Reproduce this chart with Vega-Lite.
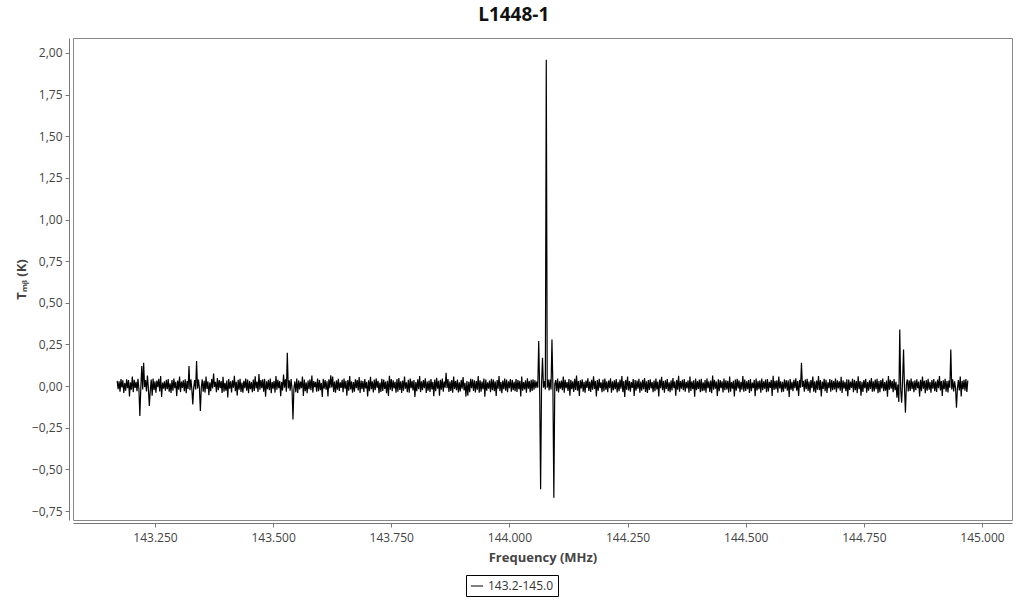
{
"$schema": "https://vega.github.io/schema/vega-lite/v6.json",
"width": 939, "height": 482,
"autosize": "none",
"padding": {"left": 73, "top": 38, "right": 12, "bottom": 80},
"title": {"text": "L1448-1", "fontSize": 19, "font": "Open Sans", "fontWeight": "bold", "color": "#111", "anchor": "middle", "frame": "bounds", "offset": 13},
"config": {
  "view": {"stroke": "#888", "strokeWidth": 1},
  "font": "Open Sans",
  "axis": {"grid": false, "domainColor": "#777", "tickColor": "#777", "tickSize": 4, "labelColor": "#444", "labelFontSize": 12, "labelFont": "Open Sans", "titleFont": "Open Sans", "titleFontSize": 13, "titleFontWeight": "bold", "titleColor": "#444"}
},
"data": {"values": [
{"f":143.170,"t":0.031},{"f":143.172,"t":-0.019},{"f":143.174,"t":0.028},{"f":143.176,"t":-0.034},{"f":143.178,"t":0.042},{"f":143.180,"t":-0.008},{"f":143.182,"t":0.035},{"f":143.184,"t":-0.041},{"f":143.186,"t":0.018},{"f":143.188,"t":-0.027},{"f":143.190,"t":0.041},{"f":143.192,"t":-0.013},{"f":143.194,"t":0.036},{"f":143.196,"t":-0.062},{"f":143.198,"t":0.022},{"f":143.200,"t":-0.022},{"f":143.202,"t":0.058},{"f":143.204,"t":-0.036},{"f":143.206,"t":0.038},{"f":143.208,"t":-0.011},
{"f":143.210,"t":0.025},{"f":143.212,"t":-0.03},{"f":143.214,"t":0.044},{"f":143.216,"t":-0.017},{"f":143.218,"t":-0.18},{"f":143.220,"t":-0.01},{"f":143.222,"t":0.12},{"f":143.224,"t":-0.02},{"f":143.226,"t":0.14},{"f":143.228,"t":-0.006},{"f":143.230,"t":0.036},{"f":143.232,"t":-0.032},{"f":143.234,"t":0.064},{"f":143.236,"t":-0.015},{"f":143.238,"t":-0.12},{"f":143.240,"t":-0.028},{"f":143.242,"t":0.039},{"f":143.244,"t":-0.058},{"f":143.246,"t":0.046},{"f":143.248,"t":-0.025},
{"f":143.250,"t":0.028},{"f":143.252,"t":-0.039},{"f":143.254,"t":0.033},{"f":143.256,"t":-0.006},{"f":143.258,"t":0.044},{"f":143.260,"t":-0.032},{"f":143.262,"t":0.061},{"f":143.264,"t":-0.066},{"f":143.266,"t":0.021},{"f":143.268,"t":-0.015},{"f":143.270,"t":0.029},{"f":143.272,"t":-0.028},{"f":143.274,"t":0.038},{"f":143.276,"t":-0.019},{"f":143.278,"t":0.042},{"f":143.280,"t":-0.034},{"f":143.282,"t":0.016},{"f":143.284,"t":-0.041},{"f":143.286,"t":0.037},{"f":143.288,"t":-0.027},
{"f":143.290,"t":0.045},{"f":143.292,"t":-0.013},{"f":143.294,"t":0.026},{"f":143.296,"t":-0.06},{"f":143.298,"t":0.033},{"f":143.300,"t":-0.022},{"f":143.302,"t":0.057},{"f":143.304,"t":-0.036},{"f":143.306,"t":0.027},{"f":143.308,"t":-0.011},{"f":143.310,"t":0.035},{"f":143.312,"t":-0.03},{"f":143.314,"t":0.041},{"f":143.316,"t":-0.043},{"f":143.318,"t":0.03},{"f":143.320,"t":-0.017},{"f":143.322,"t":0.12},{"f":143.324,"t":-0.025},{"f":143.326,"t":0.04},{"f":143.328,"t":-0.019},
{"f":143.330,"t":-0.11},{"f":143.332,"t":-0.006},{"f":143.334,"t":0.036},{"f":143.336,"t":-0.02},{"f":143.338,"t":0.15},{"f":143.340,"t":-0.015},{"f":143.342,"t":0.039},{"f":143.344,"t":-0.012},{"f":143.346,"t":-0.15},{"f":143.348,"t":-0.008},{"f":143.350,"t":0.04},{"f":143.352,"t":-0.034},{"f":143.354,"t":0.032},{"f":143.356,"t":-0.039},{"f":143.358,"t":0.058},{"f":143.360,"t":-0.017},{"f":143.362,"t":0.028},{"f":143.364,"t":-0.055},{"f":143.366,"t":0.022},{"f":143.368,"t":-0.031},
{"f":143.370,"t":0.043},{"f":143.372,"t":-0.014},{"f":143.374,"t":0.075},{"f":143.376,"t":-0.005},{"f":143.378,"t":0.025},{"f":143.380,"t":-0.036},{"f":143.382,"t":0.049},{"f":143.384,"t":-0.024},{"f":143.386,"t":0.036},{"f":143.388,"t":-0.012},{"f":143.390,"t":0.03},{"f":143.392,"t":-0.041},{"f":143.394,"t":0.056},{"f":143.396,"t":-0.033},{"f":143.398,"t":0.019},{"f":143.400,"t":-0.028},{"f":143.402,"t":0.034},{"f":143.404,"t":-0.068},{"f":143.406,"t":0.043},{"f":143.408,"t":-0.016},
{"f":143.410,"t":0.029},{"f":143.412,"t":-0.038},{"f":143.414,"t":0.035},{"f":143.416,"t":-0.009},{"f":143.418,"t":0.062},{"f":143.420,"t":-0.031},{"f":143.422,"t":0.026},{"f":143.424,"t":-0.057},{"f":143.426,"t":0.038},{"f":143.428,"t":-0.021},{"f":143.430,"t":0.044},{"f":143.432,"t":-0.035},{"f":143.434,"t":0.021},{"f":143.436,"t":-0.04},{"f":143.438,"t":0.032},{"f":143.440,"t":-0.013},{"f":143.442,"t":0.045},{"f":143.444,"t":-0.027},{"f":143.446,"t":0.039},{"f":143.448,"t":-0.042},
{"f":143.450,"t":0.031},{"f":143.452,"t":-0.018},{"f":143.454,"t":0.024},{"f":143.456,"t":-0.037},{"f":143.458,"t":0.04},{"f":143.460,"t":-0.029},{"f":143.462,"t":0.059},{"f":143.464,"t":-0.014},{"f":143.466,"t":0.027},{"f":143.468,"t":-0.035},{"f":143.470,"t":0.072},{"f":143.472,"t":-0.021},{"f":143.474,"t":0.036},{"f":143.476,"t":-0.012},{"f":143.478,"t":0.041},{"f":143.480,"t":-0.033},{"f":143.482,"t":0.044},{"f":143.484,"t":-0.064},{"f":143.486,"t":0.029},{"f":143.488,"t":-0.019},
{"f":143.490,"t":0.038},{"f":143.492,"t":-0.025},{"f":143.494,"t":0.046},{"f":143.496,"t":-0.042},{"f":143.498,"t":0.024},{"f":143.500,"t":-0.016},{"f":143.502,"t":0.031},{"f":143.504,"t":-0.039},{"f":143.506,"t":0.06},{"f":143.508,"t":-0.022},{"f":143.510,"t":0.037},{"f":143.512,"t":-0.012},{"f":143.514,"t":0.03},{"f":143.516,"t":-0.061},{"f":143.518,"t":0.025},{"f":143.520,"t":-0.027},{"f":143.522,"t":0.07},{"f":143.524,"t":-0.009},{"f":143.526,"t":0.041},{"f":143.528,"t":-0.034},
{"f":143.530,"t":0.2},{"f":143.532,"t":-0.014},{"f":143.534,"t":0.035},{"f":143.536,"t":-0.028},{"f":143.538,"t":0.043},{"f":143.540,"t":-0.018},{"f":143.542,"t":-0.2},{"f":143.544,"t":-0.012},{"f":143.546,"t":0.028},{"f":143.548,"t":-0.037},{"f":143.550,"t":0.046},{"f":143.552,"t":-0.041},{"f":143.554,"t":0.034},{"f":143.556,"t":-0.02},{"f":143.558,"t":0.027},{"f":143.560,"t":-0.013},{"f":143.562,"t":0.057},{"f":143.564,"t":-0.059},{"f":143.566,"t":0.039},{"f":143.568,"t":-0.03},
{"f":143.570,"t":0.022},{"f":143.572,"t":-0.043},{"f":143.574,"t":0.033},{"f":143.576,"t":-0.018},{"f":143.578,"t":0.04},{"f":143.580,"t":-0.025},{"f":143.582,"t":0.063},{"f":143.584,"t":-0.039},{"f":143.586,"t":0.03},{"f":143.588,"t":-0.006},{"f":143.590,"t":0.026},{"f":143.592,"t":-0.033},{"f":143.594,"t":0.045},{"f":143.596,"t":-0.031},{"f":143.598,"t":0.037},{"f":143.600,"t":-0.024},{"f":143.602,"t":0.019},{"f":143.604,"t":-0.065},{"f":143.606,"t":0.043},{"f":143.608,"t":-0.015},
{"f":143.610,"t":0.036},{"f":143.612,"t":-0.022},{"f":143.614,"t":0.029},{"f":143.616,"t":-0.062},{"f":143.618,"t":0.041},{"f":143.620,"t":-0.012},{"f":143.622,"t":0.065},{"f":143.624,"t":-0.008},{"f":143.626,"t":0.058},{"f":143.628,"t":-0.035},{"f":143.630,"t":0.027},{"f":143.632,"t":-0.04},{"f":143.634,"t":0.034},{"f":143.636,"t":-0.021},{"f":143.638,"t":0.044},{"f":143.640,"t":-0.029},{"f":143.642,"t":0.022},{"f":143.644,"t":-0.011},{"f":143.646,"t":0.038},{"f":143.648,"t":-0.036},
{"f":143.650,"t":0.045},{"f":143.652,"t":-0.016},{"f":143.654,"t":0.031},{"f":143.656,"t":-0.058},{"f":143.658,"t":0.036},{"f":143.660,"t":-0.027},{"f":143.662,"t":0.06},{"f":143.664,"t":-0.02},{"f":143.666,"t":0.028},{"f":143.668,"t":-0.039},{"f":143.670,"t":0.024},{"f":143.672,"t":-0.033},{"f":143.674,"t":0.041},{"f":143.676,"t":-0.012},{"f":143.678,"t":0.037},{"f":143.680,"t":-0.026},{"f":143.682,"t":0.054},{"f":143.684,"t":-0.041},{"f":143.686,"t":0.033},{"f":143.688,"t":-0.018},
{"f":143.690,"t":0.03},{"f":143.692,"t":-0.035},{"f":143.694,"t":0.042},{"f":143.696,"t":-0.014},{"f":143.698,"t":0.025},{"f":143.700,"t":-0.063},{"f":143.702,"t":0.035},{"f":143.704,"t":-0.031},{"f":143.706,"t":0.056},{"f":143.708,"t":-0.019},{"f":143.710,"t":0.028},{"f":143.712,"t":-0.038},{"f":143.714,"t":0.039},{"f":143.716,"t":-0.025},{"f":143.718,"t":0.046},{"f":143.720,"t":-0.011},{"f":143.722,"t":0.032},{"f":143.724,"t":-0.042},{"f":143.726,"t":0.021},{"f":143.728,"t":-0.035},
{"f":143.730,"t":0.044},{"f":143.732,"t":-0.029},{"f":143.734,"t":0.039},{"f":143.736,"t":-0.017},{"f":143.738,"t":0.027},{"f":143.740,"t":-0.043},{"f":143.742,"t":0.032},{"f":143.744,"t":-0.06},{"f":143.746,"t":0.062},{"f":143.748,"t":-0.022},{"f":143.750,"t":0.043},{"f":143.752,"t":-0.03},{"f":143.754,"t":0.035},{"f":143.756,"t":-0.014},{"f":143.758,"t":0.026},{"f":143.760,"t":-0.04},{"f":143.762,"t":0.042},{"f":143.764,"t":-0.033},{"f":143.766,"t":0.048},{"f":143.768,"t":-0.023},
{"f":143.770,"t":0.029},{"f":143.772,"t":-0.041},{"f":143.774,"t":0.034},{"f":143.776,"t":-0.028},{"f":143.778,"t":0.058},{"f":143.780,"t":-0.016},{"f":143.782,"t":0.022},{"f":143.784,"t":-0.037},{"f":143.786,"t":0.038},{"f":143.788,"t":-0.039},{"f":143.790,"t":0.045},{"f":143.792,"t":-0.012},{"f":143.794,"t":0.031},{"f":143.796,"t":-0.026},{"f":143.798,"t":0.037},{"f":143.800,"t":-0.066},{"f":143.802,"t":0.024},{"f":143.804,"t":-0.03},{"f":143.806,"t":0.041},{"f":143.808,"t":-0.019},
{"f":143.810,"t":0.06},{"f":143.812,"t":-0.036},{"f":143.814,"t":0.029},{"f":143.816,"t":-0.024},{"f":143.818,"t":0.036},{"f":143.820,"t":-0.013},{"f":143.822,"t":0.047},{"f":143.824,"t":-0.041},{"f":143.826,"t":0.027},{"f":143.828,"t":-0.028},{"f":143.830,"t":0.033},{"f":143.832,"t":-0.035},{"f":143.834,"t":0.043},{"f":143.836,"t":-0.02},{"f":143.838,"t":0.025},{"f":143.840,"t":-0.061},{"f":143.842,"t":0.039},{"f":143.844,"t":-0.031},{"f":143.846,"t":0.05},{"f":143.848,"t":-0.016},
{"f":143.850,"t":0.032},{"f":143.852,"t":-0.058},{"f":143.854,"t":0.038},{"f":143.856,"t":-0.021},{"f":143.858,"t":0.045},{"f":143.860,"t":-0.034},{"f":143.862,"t":0.027},{"f":143.864,"t":-0.01},{"f":143.866,"t":0.08},{"f":143.868,"t":-0.013},{"f":143.870,"t":0.042},{"f":143.872,"t":-0.035},{"f":143.874,"t":0.028},{"f":143.876,"t":-0.029},{"f":143.878,"t":0.036},{"f":143.880,"t":-0.04},{"f":143.882,"t":0.057},{"f":143.884,"t":-0.017},{"f":143.886,"t":0.03},{"f":143.888,"t":-0.024},
{"f":143.890,"t":0.04},{"f":143.892,"t":-0.038},{"f":143.894,"t":0.023},{"f":143.896,"t":-0.032},{"f":143.898,"t":0.037},{"f":143.900,"t":-0.015},{"f":143.902,"t":0.055},{"f":143.904,"t":-0.026},{"f":143.906,"t":0.02},{"f":143.908,"t":-0.063},{"f":143.910,"t":0.031},{"f":143.912,"t":-0.057},{"f":143.914,"t":0.026},{"f":143.916,"t":-0.036},{"f":143.918,"t":0.044},{"f":143.920,"t":-0.013},{"f":143.922,"t":0.041},{"f":143.924,"t":-0.029},{"f":143.926,"t":0.035},{"f":143.928,"t":-0.038},
{"f":143.930,"t":0.03},{"f":143.932,"t":-0.021},{"f":143.934,"t":0.061},{"f":143.936,"t":-0.04},{"f":143.938,"t":0.035},{"f":143.940,"t":-0.033},{"f":143.942,"t":0.027},{"f":143.944,"t":-0.019},{"f":143.946,"t":0.046},{"f":143.948,"t":-0.064},{"f":143.950,"t":0.039},{"f":143.952,"t":-0.027},{"f":143.954,"t":0.022},{"f":143.956,"t":-0.015},{"f":143.958,"t":0.033},{"f":143.960,"t":-0.036},{"f":143.962,"t":0.044},{"f":143.964,"t":-0.025},{"f":143.966,"t":0.04},{"f":143.968,"t":-0.031},
{"f":143.970,"t":0.028},{"f":143.972,"t":-0.059},{"f":143.974,"t":0.036},{"f":143.976,"t":-0.016},{"f":143.978,"t":0.06},{"f":143.980,"t":-0.03},{"f":143.982,"t":0.025},{"f":143.984,"t":-0.042},{"f":143.986,"t":0.033},{"f":143.988,"t":-0.019},{"f":143.990,"t":0.045},{"f":143.992,"t":-0.028},{"f":143.994,"t":0.039},{"f":143.996,"t":-0.037},{"f":143.998,"t":0.029},{"f":144.000,"t":-0.012},{"f":144.002,"t":0.042},{"f":144.004,"t":-0.034},{"f":144.006,"t":0.037},{"f":144.008,"t":-0.024},
{"f":144.010,"t":0.026},{"f":144.012,"t":-0.031},{"f":144.014,"t":0.043},{"f":144.016,"t":-0.035},{"f":144.018,"t":0.036},{"f":144.020,"t":-0.018},{"f":144.022,"t":0.031},{"f":144.024,"t":-0.062},{"f":144.026,"t":0.058},{"f":144.028,"t":-0.027},{"f":144.030,"t":0.024},{"f":144.032,"t":-0.02},{"f":144.034,"t":0.034},{"f":144.036,"t":-0.04},{"f":144.038,"t":0.047},{"f":144.040,"t":-0.015},{"f":144.042,"t":0.03},{"f":144.044,"t":-0.036},{"f":144.046,"t":0.038},{"f":144.048,"t":-0.029},
{"f":144.050,"t":0.041},{"f":144.052,"t":-0.022},{"f":144.054,"t":0.035},{"f":144.056,"t":-0.012},{"f":144.058,"t":0.027},{"f":144.060,"t":-0.01},{"f":144.062,"t":0.27},{"f":144.064,"t":-0.02},{"f":144.066,"t":-0.62},{"f":144.068,"t":0.01},{"f":144.070,"t":0.17},{"f":144.072,"t":-0.01},{"f":144.074,"t":0.03},{"f":144.076,"t":-0.02},{"f":144.078,"t":1.96},{"f":144.080,"t":-0.01},{"f":144.082,"t":0.04},{"f":144.084,"t":-0.026},{"f":144.086,"t":0.04},{"f":144.088,"t":-0.02},
{"f":144.090,"t":0.28},{"f":144.092,"t":0.0},{"f":144.094,"t":-0.67},{"f":144.096,"t":0.01},{"f":144.098,"t":0.036},{"f":144.100,"t":-0.031},{"f":144.102,"t":0.045},{"f":144.104,"t":-0.038},{"f":144.106,"t":0.029},{"f":144.108,"t":-0.016},{"f":144.110,"t":0.033},{"f":144.112,"t":-0.024},{"f":144.114,"t":0.057},{"f":144.116,"t":-0.04},{"f":144.118,"t":0.038},{"f":144.120,"t":-0.013},{"f":144.122,"t":0.024},{"f":144.124,"t":-0.029},{"f":144.126,"t":0.042},{"f":144.128,"t":-0.058},
{"f":144.130,"t":0.037},{"f":144.132,"t":-0.018},{"f":144.134,"t":0.029},{"f":144.136,"t":-0.035},{"f":144.138,"t":0.044},{"f":144.140,"t":-0.023},{"f":144.142,"t":0.063},{"f":144.144,"t":-0.027},{"f":144.146,"t":0.03},{"f":144.148,"t":-0.06},{"f":144.150,"t":0.035},{"f":144.152,"t":-0.014},{"f":144.154,"t":0.041},{"f":144.156,"t":-0.034},{"f":144.158,"t":0.026},{"f":144.160,"t":-0.039},{"f":144.162,"t":0.033},{"f":144.164,"t":-0.011},{"f":144.166,"t":0.047},{"f":144.168,"t":-0.029},
{"f":144.170,"t":0.027},{"f":144.172,"t":-0.035},{"f":144.174,"t":0.038},{"f":144.176,"t":-0.022},{"f":144.178,"t":0.059},{"f":144.180,"t":-0.017},{"f":144.182,"t":0.031},{"f":144.184,"t":-0.062},{"f":144.186,"t":0.036},{"f":144.188,"t":-0.028},{"f":144.190,"t":0.044},{"f":144.192,"t":-0.012},{"f":144.194,"t":0.022},{"f":144.196,"t":-0.036},{"f":144.198,"t":0.04},{"f":144.200,"t":-0.031},{"f":144.202,"t":0.045},{"f":144.204,"t":-0.021},{"f":144.206,"t":0.028},{"f":144.208,"t":-0.037},
{"f":144.210,"t":0.034},{"f":144.212,"t":-0.013},{"f":144.214,"t":0.046},{"f":144.216,"t":-0.039},{"f":144.218,"t":0.028},{"f":144.220,"t":-0.024},{"f":144.222,"t":0.035},{"f":144.224,"t":-0.018},{"f":144.226,"t":0.043},{"f":144.228,"t":-0.038},{"f":144.230,"t":0.025},{"f":144.232,"t":-0.03},{"f":144.234,"t":0.039},{"f":144.236,"t":-0.015},{"f":144.238,"t":0.061},{"f":144.240,"t":-0.036},{"f":144.242,"t":0.031},{"f":144.244,"t":-0.065},{"f":144.246,"t":0.037},{"f":144.248,"t":-0.021},
{"f":144.250,"t":0.058},{"f":144.252,"t":-0.026},{"f":144.254,"t":0.03},{"f":144.256,"t":-0.033},{"f":144.258,"t":0.024},{"f":144.260,"t":-0.011},{"f":144.262,"t":0.042},{"f":144.264,"t":-0.059},{"f":144.266,"t":0.036},{"f":144.268,"t":-0.027},{"f":144.270,"t":0.033},{"f":144.272,"t":-0.016},{"f":144.274,"t":0.044},{"f":144.276,"t":-0.039},{"f":144.278,"t":0.027},{"f":144.280,"t":-0.028},{"f":144.282,"t":0.038},{"f":144.284,"t":-0.019},{"f":144.286,"t":0.048},{"f":144.288,"t":-0.035},
{"f":144.290,"t":0.029},{"f":144.292,"t":-0.041},{"f":144.294,"t":0.036},{"f":144.296,"t":-0.023},{"f":144.298,"t":0.041},{"f":144.300,"t":-0.014},{"f":144.302,"t":0.024},{"f":144.304,"t":-0.037},{"f":144.306,"t":0.033},{"f":144.308,"t":-0.03},{"f":144.310,"t":0.045},{"f":144.312,"t":-0.02},{"f":144.314,"t":0.027},{"f":144.316,"t":-0.063},{"f":144.318,"t":0.039},{"f":144.320,"t":-0.012},{"f":144.322,"t":0.056},{"f":144.324,"t":-0.025},{"f":144.326,"t":0.031},{"f":144.328,"t":-0.039},
{"f":144.330,"t":0.035},{"f":144.332,"t":-0.017},{"f":144.334,"t":0.043},{"f":144.336,"t":-0.031},{"f":144.338,"t":0.022},{"f":144.340,"t":-0.037},{"f":144.342,"t":0.034},{"f":144.344,"t":-0.026},{"f":144.346,"t":0.048},{"f":144.348,"t":-0.012},{"f":144.350,"t":0.028},{"f":144.352,"t":-0.058},{"f":144.354,"t":0.037},{"f":144.356,"t":-0.021},{"f":144.358,"t":0.062},{"f":144.360,"t":-0.034},{"f":144.362,"t":0.03},{"f":144.364,"t":-0.016},{"f":144.366,"t":0.038},{"f":144.368,"t":-0.025},
{"f":144.370,"t":0.042},{"f":144.372,"t":-0.033},{"f":144.374,"t":0.026},{"f":144.376,"t":-0.014},{"f":144.378,"t":0.034},{"f":144.380,"t":-0.04},{"f":144.382,"t":0.057},{"f":144.384,"t":-0.029},{"f":144.386,"t":0.028},{"f":144.388,"t":-0.018},{"f":144.390,"t":0.035},{"f":144.392,"t":-0.064},{"f":144.394,"t":0.045},{"f":144.396,"t":-0.024},{"f":144.398,"t":0.03},{"f":144.400,"t":-0.017},{"f":144.402,"t":0.039},{"f":144.404,"t":-0.036},{"f":144.406,"t":0.044},{"f":144.408,"t":-0.031},
{"f":144.410,"t":0.023},{"f":144.412,"t":-0.028},{"f":144.414,"t":0.037},{"f":144.416,"t":-0.04},{"f":144.418,"t":0.046},{"f":144.420,"t":-0.013},{"f":144.422,"t":0.029},{"f":144.424,"t":-0.035},{"f":144.426,"t":0.033},{"f":144.428,"t":-0.042},{"f":144.430,"t":0.063},{"f":144.432,"t":-0.021},{"f":144.434,"t":0.038},{"f":144.436,"t":-0.016},{"f":144.438,"t":0.027},{"f":144.440,"t":-0.06},{"f":144.442,"t":0.041},{"f":144.444,"t":-0.031},{"f":144.446,"t":0.036},{"f":144.448,"t":-0.012},
{"f":144.450,"t":0.029},{"f":144.452,"t":-0.038},{"f":144.454,"t":0.045},{"f":144.456,"t":-0.024},{"f":144.458,"t":0.035},{"f":144.460,"t":-0.02},{"f":144.462,"t":0.031},{"f":144.464,"t":-0.039},{"f":144.466,"t":0.058},{"f":144.468,"t":-0.033},{"f":144.470,"t":0.024},{"f":144.472,"t":-0.015},{"f":144.474,"t":0.032},{"f":144.476,"t":-0.062},{"f":144.478,"t":0.04},{"f":144.480,"t":-0.027},{"f":144.482,"t":0.044},{"f":144.484,"t":-0.014},{"f":144.486,"t":0.034},{"f":144.488,"t":-0.036},
{"f":144.490,"t":0.026},{"f":144.492,"t":-0.022},{"f":144.494,"t":0.06},{"f":144.496,"t":-0.033},{"f":144.498,"t":0.039},{"f":144.500,"t":-0.029},{"f":144.502,"t":0.028},{"f":144.504,"t":-0.018},{"f":144.506,"t":0.036},{"f":144.508,"t":-0.041},{"f":144.510,"t":0.043},{"f":144.512,"t":-0.03},{"f":144.514,"t":0.021},{"f":144.516,"t":-0.012},{"f":144.518,"t":0.037},{"f":144.520,"t":-0.061},{"f":144.522,"t":0.045},{"f":144.524,"t":-0.026},{"f":144.526,"t":0.03},{"f":144.528,"t":-0.019},
{"f":144.530,"t":0.034},{"f":144.532,"t":-0.039},{"f":144.534,"t":0.046},{"f":144.536,"t":-0.025},{"f":144.538,"t":0.028},{"f":144.540,"t":-0.015},{"f":144.542,"t":0.039},{"f":144.544,"t":-0.037},{"f":144.546,"t":0.042},{"f":144.548,"t":-0.032},{"f":144.550,"t":0.025},{"f":144.552,"t":-0.011},{"f":144.554,"t":0.037},{"f":144.556,"t":-0.059},{"f":144.558,"t":0.062},{"f":144.560,"t":-0.023},{"f":144.562,"t":0.031},{"f":144.564,"t":-0.019},{"f":144.566,"t":0.035},{"f":144.568,"t":-0.04},
{"f":144.570,"t":0.057},{"f":144.572,"t":-0.014},{"f":144.574,"t":0.029},{"f":144.576,"t":-0.036},{"f":144.578,"t":0.025},{"f":144.580,"t":-0.034},{"f":144.582,"t":0.041},{"f":144.584,"t":-0.016},{"f":144.586,"t":0.035},{"f":144.588,"t":-0.027},{"f":144.590,"t":0.034},{"f":144.592,"t":-0.066},{"f":144.594,"t":0.043},{"f":144.596,"t":-0.021},{"f":144.598,"t":0.026},{"f":144.600,"t":-0.031},{"f":144.602,"t":0.038},{"f":144.604,"t":-0.013},{"f":144.606,"t":0.047},{"f":144.608,"t":-0.027},
{"f":144.610,"t":0.03},{"f":144.612,"t":-0.06},{"f":144.614,"t":0.037},{"f":144.616,"t":-0.01},{"f":144.618,"t":0.14},{"f":144.620,"t":-0.005},{"f":144.622,"t":0.031},{"f":144.624,"t":-0.034},{"f":144.626,"t":0.04},{"f":144.628,"t":-0.018},{"f":144.630,"t":0.044},{"f":144.632,"t":-0.029},{"f":144.634,"t":0.027},{"f":144.636,"t":-0.04},{"f":144.638,"t":0.036},{"f":144.640,"t":-0.013},{"f":144.642,"t":0.058},{"f":144.644,"t":-0.033},{"f":144.646,"t":0.028},{"f":144.648,"t":-0.039},
{"f":144.650,"t":0.033},{"f":144.652,"t":-0.021},{"f":144.654,"t":0.06},{"f":144.656,"t":-0.025},{"f":144.658,"t":0.036},{"f":144.660,"t":-0.063},{"f":144.662,"t":0.027},{"f":144.664,"t":-0.017},{"f":144.666,"t":0.044},{"f":144.668,"t":-0.03},{"f":144.670,"t":0.038},{"f":144.672,"t":-0.041},{"f":144.674,"t":0.022},{"f":144.676,"t":-0.012},{"f":144.678,"t":0.042},{"f":144.680,"t":-0.033},{"f":144.682,"t":0.037},{"f":144.684,"t":-0.024},{"f":144.686,"t":0.03},{"f":144.688,"t":-0.02},
{"f":144.690,"t":0.045},{"f":144.692,"t":-0.037},{"f":144.694,"t":0.035},{"f":144.696,"t":-0.014},{"f":144.698,"t":0.029},{"f":144.700,"t":-0.027},{"f":144.702,"t":0.056},{"f":144.704,"t":-0.041},{"f":144.706,"t":0.034},{"f":144.708,"t":-0.016},{"f":144.710,"t":0.026},{"f":144.712,"t":-0.03},{"f":144.714,"t":0.041},{"f":144.716,"t":-0.061},{"f":144.718,"t":0.039},{"f":144.720,"t":-0.023},{"f":144.722,"t":0.027},{"f":144.724,"t":-0.011},{"f":144.726,"t":0.044},{"f":144.728,"t":-0.036},
{"f":144.730,"t":0.038},{"f":144.732,"t":-0.025},{"f":144.734,"t":0.031},{"f":144.736,"t":-0.042},{"f":144.738,"t":0.059},{"f":144.740,"t":-0.019},{"f":144.742,"t":0.03},{"f":144.744,"t":-0.058},{"f":144.746,"t":0.026},{"f":144.748,"t":-0.035},{"f":144.750,"t":0.036},{"f":144.752,"t":-0.012},{"f":144.754,"t":0.043},{"f":144.756,"t":-0.04},{"f":144.758,"t":0.025},{"f":144.760,"t":-0.028},{"f":144.762,"t":0.035},{"f":144.764,"t":-0.017},{"f":144.766,"t":0.048},{"f":144.768,"t":-0.033},
{"f":144.770,"t":0.028},{"f":144.772,"t":-0.032},{"f":144.774,"t":0.039},{"f":144.776,"t":-0.019},{"f":144.778,"t":0.044},{"f":144.780,"t":-0.042},{"f":144.782,"t":0.03},{"f":144.784,"t":-0.037},{"f":144.786,"t":0.036},{"f":144.788,"t":-0.014},{"f":144.790,"t":0.045},{"f":144.792,"t":-0.031},{"f":144.794,"t":0.024},{"f":144.796,"t":-0.028},{"f":144.798,"t":0.034},{"f":144.800,"t":-0.064},{"f":144.802,"t":0.06},{"f":144.804,"t":-0.021},{"f":144.806,"t":0.037},{"f":144.808,"t":-0.016},
{"f":144.810,"t":0.031},{"f":144.812,"t":-0.036},{"f":144.814,"t":0.043},{"f":144.816,"t":-0.024},{"f":144.818,"t":0.026},{"f":144.820,"t":-0.07},{"f":144.822,"t":0.01},{"f":144.824,"t":-0.095},{"f":144.826,"t":0.34},{"f":144.828,"t":-0.02},{"f":144.830,"t":-0.1},{"f":144.832,"t":0.03},{"f":144.834,"t":0.22},{"f":144.836,"t":-0.01},{"f":144.838,"t":-0.16},{"f":144.840,"t":0.01},{"f":144.842,"t":0.04},{"f":144.844,"t":-0.032},{"f":144.846,"t":0.035},{"f":144.848,"t":-0.029},
{"f":144.850,"t":0.045},{"f":144.852,"t":-0.018},{"f":144.854,"t":0.029},{"f":144.856,"t":-0.037},{"f":144.858,"t":0.034},{"f":144.860,"t":-0.025},{"f":144.862,"t":0.041},{"f":144.864,"t":-0.013},{"f":144.866,"t":0.027},{"f":144.868,"t":-0.062},{"f":144.870,"t":0.038},{"f":144.872,"t":-0.03},{"f":144.874,"t":0.057},{"f":144.876,"t":-0.015},{"f":144.878,"t":0.032},{"f":144.880,"t":-0.042},{"f":144.882,"t":0.036},{"f":144.884,"t":-0.027},{"f":144.886,"t":0.044},{"f":144.888,"t":-0.022},
{"f":144.890,"t":0.025},{"f":144.892,"t":-0.04},{"f":144.894,"t":0.036},{"f":144.896,"t":-0.016},{"f":144.898,"t":0.042},{"f":144.900,"t":-0.031},{"f":144.902,"t":0.027},{"f":144.904,"t":-0.035},{"f":144.906,"t":0.039},{"f":144.908,"t":-0.013},{"f":144.910,"t":0.061},{"f":144.912,"t":-0.026},{"f":144.914,"t":0.03},{"f":144.916,"t":-0.06},{"f":144.918,"t":0.035},{"f":144.920,"t":-0.019},{"f":144.922,"t":0.044},{"f":144.924,"t":-0.034},{"f":144.926,"t":0.03},{"f":144.928,"t":-0.038},
{"f":144.930,"t":0.033},{"f":144.932,"t":-0.01},{"f":144.934,"t":0.22},{"f":144.936,"t":-0.02},{"f":144.938,"t":0.041},{"f":144.940,"t":-0.032},{"f":144.942,"t":0.028},{"f":144.944,"t":-0.01},{"f":144.946,"t":-0.13},{"f":144.948,"t":-0.015},{"f":144.950,"t":0.037},{"f":144.952,"t":-0.026},{"f":144.954,"t":0.057},{"f":144.956,"t":-0.063},{"f":144.958,"t":0.031},{"f":144.960,"t":-0.018},{"f":144.962,"t":0.038},{"f":144.964,"t":-0.027},{"f":144.966,"t":0.043},{"f":144.968,"t":-0.035},
{"f":144.970,"t":0.034}
]},
"mark": {"type": "line", "strokeWidth": 1.2, "clip": true},
"encoding": {
  "x": {"field": "f", "type": "quantitative",
    "scale": {"domain": [143.0765, 145.0635], "nice": false, "zero": false},
    "axis": {"title": "Frequency (MHz)", "values": [143.25, 143.5, 143.75, 144, 144.25, 144.5, 144.75, 145], "format": ".3f", "offset": 3, "labelPadding": 5, "titlePadding": 8}},
  "y": {"field": "t", "type": "quantitative",
    "scale": {"domain": [-0.804, 2.09], "nice": false, "zero": false},
    "axis": {"title": "Tₘᵦ (K)", "values": [-0.75, -0.5, -0.25, 0, 0.25, 0.5, 0.75, 1, 1.25, 1.5, 1.75, 2], "labelExpr": "replace(format(datum.value, '.2f'), '.', ',')", "offset": 4, "labelPadding": 3, "titlePadding": 3}},
  "color": {"datum": "143.2-145.0", "scale": {"range": ["black"]},
    "legend": {"orient": "none", "legendX": 393, "legendY": 537, "title": null, "strokeColor": "black", "padding": 4, "symbolType": "stroke", "symbolSize": 150, "symbolStrokeWidth": 1, "labelFontSize": 12, "labelColor": "#333", "labelFont": "Open Sans"}}
}
}
